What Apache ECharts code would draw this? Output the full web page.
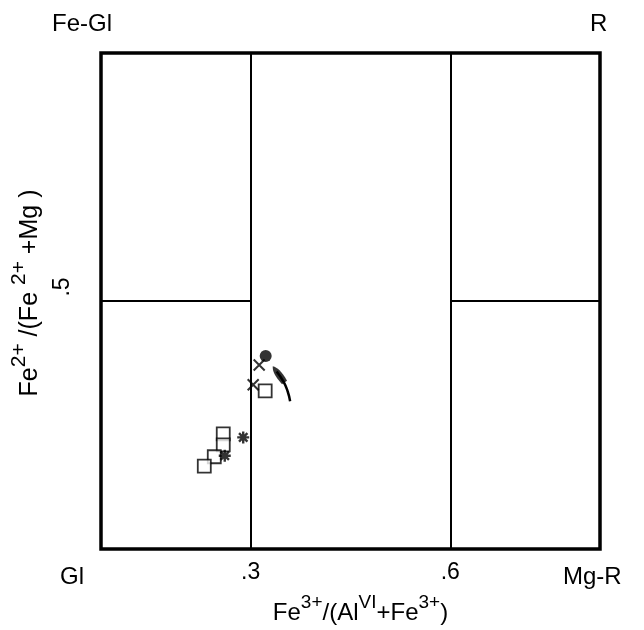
<!DOCTYPE html>
<html><head><meta charset="utf-8">
<script src="https://cdn.jsdelivr.net/npm/echarts@6/dist/echarts.min.js"></script>
<style>html,body{margin:0;padding:0;background:#fff}#c{width:644px;height:630px}</style>
</head><body><div id="c"></div>
<script>
// Field boundaries
const xBounds = [0.3, 0.7];
const xTickLabels = ['.3', '.6'];
const yBound = 0.5;
const yTickLabels = ['.5'];
// Corner end-member names
const cornerNames = {bl: 'Gl', br: 'Mg-R', tl: 'Fe-Gl', tr: 'R'};
// Data points [Fe3+/(AlVI+Fe3+), Fe2+/(Fe2++Mg)]
const squares = [[0.329, 0.319], [0.245, 0.232], [0.245, 0.210], [0.227, 0.186], [0.207, 0.167]];
const crosses = [[0.317, 0.371], [0.305, 0.331]];
const asterisks = [[0.285, 0.225], [0.248, 0.188]];
const dots = [[0.330, 0.389]];
// Trend arrow path (tail -> head)
const arrowPath = [[0.379, 0.298], [0.374, 0.318], [0.366, 0.337], [0.352, 0.358]];
const arrowHead = [[0.356, 0.352]];

const chart = echarts.init(document.getElementById('c'));
const font = 'Liberation Sans, Arial, sans-serif';
const black = '#000';
const crossPath = 'path://M0,0L10,10M10,0L0,10';
const starPath = 'path://M5,0L5,10M0,5L10,5M1.5,1.5L8.5,8.5M8.5,1.5L1.5,8.5';
const dartPath = 'path://M5,0C8,4 9,10 8,22L2,22C1,10 2,4 5,0Z';
const richX = {
  n: {fontSize: 24, fontFamily: font, color: black, verticalAlign: 'bottom', lineHeight: 32},
  s: {fontSize: 19, fontFamily: font, color: black, verticalAlign: 'top', lineHeight: 32}
};
const richY = {
  n: {fontSize: 25, fontFamily: font, color: black, verticalAlign: 'bottom', lineHeight: 34},
  s: {fontSize: 21, fontFamily: font, color: black, verticalAlign: 'top', lineHeight: 34}
};

chart.setOption({
  animation: false,
  backgroundColor: '#fff',
  grid: {left: 101, right: 44, top: 53, bottom: 81, show: true, borderColor: black, borderWidth: 3.5, backgroundColor: 'transparent'},
  xAxis: {
    type: 'value', min: 0, max: 1,
    axisLine: {show: false}, axisTick: {show: false}, splitLine: {show: false},
    axisLabel: {
      customValues: xBounds, margin: 12,
      formatter: v => { const i = xBounds.findIndex(b => Math.abs(b - v) < 1e-6); return i >= 0 ? xTickLabels[i] : ''; },
      color: black, fontSize: 23, fontFamily: font
    },
    name: '{n|Fe}{s|3+}{n|/(Al}{s|VI}{n|+Fe}{s|3+}{n|)}',
    nameLocation: 'middle', nameGap: 44,
    nameTextStyle: {padding: [0, 0, 0, 20], rich: richX}
  },
  yAxis: {
    type: 'value', min: 0, max: 1,
    axisLine: {show: false}, axisTick: {show: false}, splitLine: {show: false},
    axisLabel: {
      customValues: [yBound], margin: 27, rotate: 90,
      formatter: v => Math.abs(v - yBound) < 1e-6 ? yTickLabels[0] : '',
      color: black, fontSize: 23, fontFamily: font, padding: [0, 0, 0, 28]
    },
    name: '{n|Fe}{s|2+}{n| /(Fe }{s|2+}{n| +Mg )}',
    nameLocation: 'middle', nameGap: 56, nameRotate: 90,
    nameTextStyle: {padding: [0, 0, 0, 16], rich: richY}
  },
  graphic: [
    {type: 'text', left: 52, top: 12, style: {text: cornerNames.tl, font: '24px ' + font, fill: black}},
    {type: 'text', left: 590, top: 12, style: {text: cornerNames.tr, font: '24px ' + font, fill: black}},
    {type: 'text', left: 60, top: 565, style: {text: cornerNames.bl, font: '24px ' + font, fill: black}},
    {type: 'text', left: 563, top: 565, style: {text: cornerNames.br, font: '24px ' + font, fill: black}}
  ],
  series: [
    {
      type: 'line', data: [], silent: true,
      markLine: {
        silent: true, symbol: 'none', label: {show: false},
        lineStyle: {color: black, width: 2, type: 'solid'},
        data: [
          {xAxis: xBounds[0]}, {xAxis: xBounds[1]},
          [{coord: [0, yBound]}, {coord: [xBounds[0], yBound]}],
          [{coord: [xBounds[1], yBound]}, {coord: [1, yBound]}]
        ]
      }
    },
    {type: 'scatter', data: squares, symbol: 'rect', symbolSize: 13,
     itemStyle: {color: '#fff', borderColor: black, borderWidth: 1.8}},
    {type: 'scatter', data: crosses, symbol: crossPath, symbolSize: 11,
     itemStyle: {color: 'none', borderColor: black, borderWidth: 2}},
    {type: 'scatter', data: asterisks, symbol: starPath, symbolSize: 12,
     itemStyle: {color: 'none', borderColor: black, borderWidth: 2.4}},
    {type: 'scatter', data: dots, symbol: 'circle', symbolSize: 12, itemStyle: {color: black}},
    {type: 'line', data: arrowPath, smooth: true, symbol: 'none', lineStyle: {color: black, width: 2.5}},
    {type: 'scatter', data: arrowHead, symbol: dartPath, symbolSize: [7, 20], symbolRotate: 36, itemStyle: {color: black}}
  ]
});
</script></body></html>
